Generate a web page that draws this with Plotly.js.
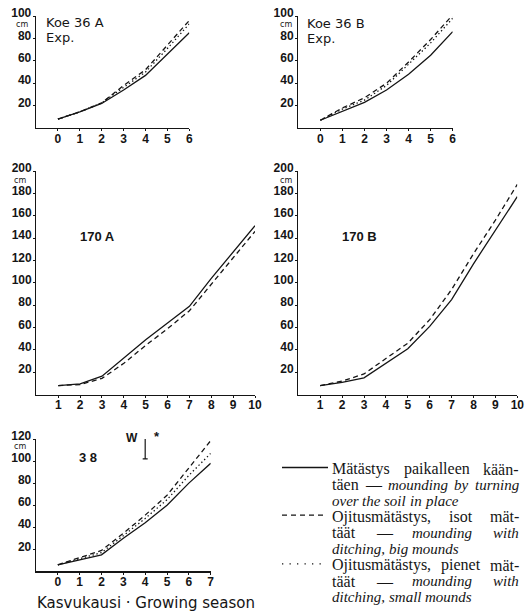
<!DOCTYPE html>
<html>
<head>
<meta charset="utf-8">
<script src="https://cdn.plot.ly/plotly-3.0.1.min.js"></script>
<style>html,body{margin:0;padding:0;background:#fff;}#chart{width:532px;height:611px;}</style>
</head>
<body>
<div id="chart"></div>
<script>
// ---------- data ----------
const season36 = [0, 1, 2, 3, 4, 5, 6];
const koe36A_solid  = [8, 14.5, 22, 34, 47, 66, 85];
const koe36A_dashed = [8, 14.5, 22.5, 38, 52, 74, 96];
const koe36A_dotted = [8, 14.5, 22.5, 36, 50, 71, 93];

const koe36B_solid  = [7, 15, 23, 34, 48, 65, 86];
const koe36B_dashed = [7, 18, 27, 40, 59, 79, 101];
const koe36B_dotted = [7, 17, 25, 38, 57, 76, 98];

const season170 = [1, 2, 3, 4, 5, 6, 7, 8, 9, 10];
const koe170A_solid  = [8, 9.5, 16.5, 33, 49, 64, 79, 104, 127, 151];
const koe170A_dashed = [8, 9, 14.5, 28, 44, 59, 75, 99, 122, 146];

const koe170B_solid  = [8, 11, 15, 28, 41, 61, 85, 117, 147, 177];
const koe170B_dashed = [8, 12, 18.5, 32, 46, 67, 94, 126, 156, 188];

const season38 = [0, 1, 2, 3, 4, 5, 6, 7];
const koe38_solid  = [6, 10.3, 15, 30, 44, 60, 80, 98];
const koe38_dashed = [6, 12.8, 19, 34.5, 51, 69, 94, 118.5];
const koe38_dotted = [6, 11.5, 17, 32.4, 48, 65, 87, 107];

const lsdX = [4];
const lsdLow = [102];
const lsdHigh = [121];

const ticks36x = [0, 1, 2, 3, 4, 5, 6];
const ticks36y = [20, 40, 60, 80, 100];
const ticks170x = [1, 2, 3, 4, 5, 6, 7, 8, 9, 10];
const ticks170y = [20, 40, 60, 80, 100, 120, 140, 160, 180, 200];
const ticks38x = [0, 1, 2, 3, 4, 5, 6, 7];
const ticks38y = [20, 40, 60, 80, 100, 120];

const legendRows = [
  {words: [['Mätästys',0],['paikalleen',0],['kään-',0]], justify: true},
  {words: [['täen',0],['—',0],['mounding',1],['by',1],['turning',1]], justify: true},
  {words: [['over',1],['the',1],['soil',1],['in',1],['place',1]], justify: false},
  {words: [['Ojitusmätästys,',0],['isot',0],['mät-',0]], justify: true},
  {words: [['täät',0],['—',0],['mounding',1],['with',1]], justify: true},
  {words: [['ditching,',1],['big',1],['mounds',1]], justify: false},
  {words: [['Ojitusmätästys,',0],['pienet',0],['mät-',0]], justify: true},
  {words: [['täät',0],['—',0],['mounding',1],['with',1]], justify: true},
  {words: [['ditching,',1],['small',1],['mounds',1]], justify: false}
];

// ---------- layout helpers ----------
const W = 532, H = 611;
const px = x => x / W;
const py = y => 1 - y / H;
const INK = '#151515';
const LW = 1.3;
const DASH = '5px,3.5px';
const DOT = '1.4px,2.6px';

const tickFont = {family: 'Liberation Sans, Arial, sans-serif', size: 12, color: INK, weight: 700};

function xax(d0, d1, range, vals, anchor) {
  return {domain: [px(d0), px(d1)], range: range, anchor: anchor, showline: true, linecolor: INK, linewidth: LW,
    ticks: 'outside', ticklen: 2, tickwidth: 1, tickcolor: INK, tickvals: vals, ticktext: vals.map(String),
    ticklabelstandoff: -3,
    showgrid: false, zeroline: false, tickfont: tickFont, fixedrange: true};
}
function yax(d0, d1, range, vals, anchor) {
  return {domain: [py(d1), py(d0)], range: range, anchor: anchor, showline: true, linecolor: INK, linewidth: LW,
    ticks: 'outside', ticklen: 2, tickwidth: 1, tickcolor: INK, tickvals: vals, ticktext: vals.map(String),
    ticklabelstandoff: -1, ticklabelshift: -3,
    showgrid: false, zeroline: false, tickfont: tickFont, fixedrange: true};
}
function tr(x, y, dash, xa, ya) {
  return {x: x, y: y, xaxis: xa, yaxis: ya, mode: 'lines', hoverinfo: 'skip',
    line: {color: INK, width: LW, dash: dash}, showlegend: false};
}

const data = [
  tr(season36, koe36A_solid, 'solid', 'x', 'y'),
  tr(season36, koe36A_dashed, DASH, 'x', 'y'),
  tr(season36, koe36A_dotted, DOT, 'x', 'y'),
  tr(season36, koe36B_solid, 'solid', 'x2', 'y2'),
  tr(season36, koe36B_dashed, DASH, 'x2', 'y2'),
  tr(season36, koe36B_dotted, DOT, 'x2', 'y2'),
  tr(season170, koe170A_solid, 'solid', 'x3', 'y3'),
  tr(season170, koe170A_dashed, DASH, 'x3', 'y3'),
  tr(season170, koe170B_solid, 'solid', 'x4', 'y4'),
  tr(season170, koe170B_dashed, DASH, 'x4', 'y4'),
  tr(season38, koe38_solid, 'solid', 'x5', 'y5'),
  tr(season38, koe38_dashed, DASH, 'x5', 'y5'),
  tr(season38, koe38_dotted, DOT, 'x5', 'y5'),
  {x: lsdX, y: lsdLow.map((v, i) => (v + lsdHigh[i]) / 2), xaxis: 'x5', yaxis: 'y5', mode: 'markers',
   marker: {size: 1, color: 'rgba(0,0,0,0)'}, cliponaxis: false, hoverinfo: 'skip', showlegend: false,
   error_y: {type: 'data', symmetric: true, array: lsdLow.map((v, i) => (lsdHigh[i] - v) / 2),
             color: INK, thickness: 1.2, width: 2.5}}
];

const sans = 'DejaVu Sans, sans-serif';
const boldSans = {family: 'Liberation Sans, Arial, sans-serif', size: 13, color: INK, weight: 700};
function txt(t, x, y, size, opts) {
  return Object.assign({text: t, x: px(x), y: py(y), xref: 'paper', yref: 'paper', showarrow: false,
    xanchor: 'left', yanchor: 'middle', borderpad: 0, borderwidth: 0,
    font: {family: sans, size: size, color: INK}}, opts || {});
}

const annotations = [
  txt('cm', 22, 25, 8, {xanchor: 'center'}),
  txt('cm', 286, 25, 8, {xanchor: 'center'}),
  txt('cm', 20, 180, 8, {xanchor: 'center'}),
  txt('cm', 286, 180, 8, {xanchor: 'center'}),
  txt('cm', 20, 446, 8, {xanchor: 'center'}),
  txt('Koe 36 A', 46, 22.5, 13),
  txt('Exp.', 46, 37, 13),
  txt('Koe 36 B', 307, 23.5, 13),
  txt('Exp.', 307, 38, 13),
  txt('170 A', 80, 236, 13, {font: boldSans}),
  txt('170 B', 342, 236, 13, {font: boldSans}),
  txt('3 8', 79, 457, 13, {font: boldSans}),
  txt('W', 131.7, 438, 12, {xanchor: 'center', font: Object.assign({}, boldSans, {size: 12})}),
  txt('*', 157, 436, 13, {xanchor: 'center', font: boldSans}),
  txt('Kasvukausi · Growing season', 145.5, 603, 15, {xanchor: 'center'})
];

// legend text, justified between left and right edges
const ROM_SIZE = 16, IT_SIZE = 15, LEG_FAMILY = 'Liberation Serif';
const legLeft = 332, legRight = 519, legTop = 469, legStep = 15.9;
const rowY = r => legTop + r * legStep + (r >= 6 ? 1 : 0);
const cv = document.createElement('canvas').getContext('2d');
function measure(t, it) {
  cv.font = (it ? 'italic ' + IT_SIZE : ROM_SIZE) + 'px "' + LEG_FAMILY + '"';
  return cv.measureText(t).width;
}
legendRows.forEach((row, r) => {
  const y = rowY(r);
  const widths = row.words.map(w => measure(w[0], w[1]));
  const total = widths.reduce((a, b) => a + b, 0);
  const gap = row.justify ? (legRight - legLeft - total) / (row.words.length - 1) : measure(' ', 1);
  let x = legLeft;
  row.words.forEach((w, i) => {
    annotations.push(txt(w[1] ? '<i>' + w[0] + '</i>' : w[0], x, y, w[1] ? IT_SIZE : ROM_SIZE,
      {font: {family: LEG_FAMILY + ', serif', size: w[1] ? IT_SIZE : ROM_SIZE, color: INK}}));
    x += widths[i] + gap;
  });
});

const shapes = [
  {type: 'line', xref: 'paper', yref: 'paper', x0: px(282), x1: px(328), y0: py(rowY(0) - 1.5), y1: py(rowY(0) - 1.5), line: {color: INK, width: LW}},
  {type: 'line', xref: 'paper', yref: 'paper', x0: px(282), x1: px(327), y0: py(rowY(3) - 1.5), y1: py(rowY(3) - 1.5), line: {color: INK, width: LW, dash: '5px,4px'}},
  {type: 'line', xref: 'paper', yref: 'paper', x0: px(282), x1: px(327), y0: py(rowY(6) - 1.5), y1: py(rowY(6) - 1.5), line: {color: INK, width: LW, dash: '1.3px,6.2px'}}
];

const layout = {
  width: W, height: H, margin: {l: 0, r: 0, t: 0, b: 0},
  paper_bgcolor: '#fff', plot_bgcolor: '#fff', showlegend: false,
  xaxis:  xax(36, 189.3, [-1, 6], ticks36x, 'y'),
  yaxis:  yax(16, 128.1, [0, 100], ticks36y, 'x'),
  xaxis2: xax(298.3, 452.7, [-1, 6], ticks36x, 'y2'),
  yaxis2: yax(16, 128.1, [0, 100], ticks36y, 'x2'),
  xaxis3: xax(36.4, 255, [0, 10], ticks170x, 'y3'),
  yaxis3: yax(171, 394.6, [0, 200], ticks170y, 'x3'),
  xaxis4: xax(298.3, 517.3, [0, 10], ticks170x, 'y4'),
  yaxis4: yax(171, 394.6, [0, 200], ticks170y, 'x4'),
  xaxis5: xax(36, 210.7, [-1, 7], ticks38x, 'y5'),
  yaxis5: yax(439, 571.4, [0, 120], ticks38y, 'x5'),
  annotations: annotations,
  shapes: shapes
};

Plotly.newPlot('chart', data, layout, {staticPlot: true, displayModeBar: false});
</script>
</body>
</html>
